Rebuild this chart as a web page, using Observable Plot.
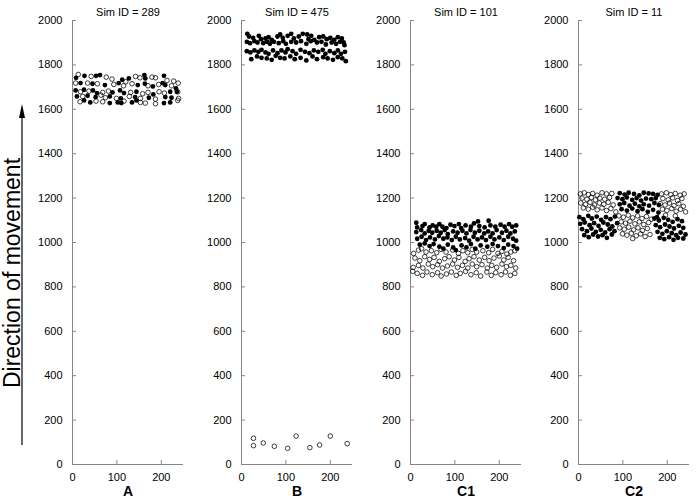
<!DOCTYPE html>
<html><head><meta charset="utf-8">
<script src="https://cdn.jsdelivr.net/npm/d3@7"></script>
<script src="https://cdn.jsdelivr.net/npm/@observablehq/plot@0.6"></script>
<style>
html,body{margin:0;padding:0;background:#fff;}
#chart{position:relative;width:697px;height:500px;overflow:hidden;font-family:"Liberation Sans",Arial,sans-serif;background:#fff;}
#chart svg{position:absolute;top:0;}
</style></head><body><div id="chart"></div>
<script>
const yTicks = [0,200,400,600,800,1000,1200,1400,1600,1800,2000];
const xTicks = [0,100,200];
const panelLabels = ["A","B","C1","C2"];
const simIds = [289,475,101,11];
const yTitle = "Direction of movement";

const A_filled = [[8,1742],[27,1751],[53,1751],[62,1754],[112,1733],[127,1739],[162,1754],[164,1739],[206,1751],[203,1718],[18,1718],[45,1715],[73,1709],[104,1718],[147,1709],[163,1715],[181,1703],[209,1709],[233,1694],[7,1685],[26,1688],[46,1685],[55,1673],[90,1676],[107,1685],[116,1673],[144,1679],[182,1667],[220,1679],[235,1679],[10,1658],[34,1661],[52,1655],[84,1658],[109,1649],[141,1655],[172,1652],[209,1655],[223,1652],[26,1640],[40,1631],[84,1628],[102,1631],[110,1628],[134,1631],[144,1640],[206,1628],[220,1631]];
const A_open = [[13,1757],[42,1748],[76,1745],[89,1736],[120,1724],[142,1748],[152,1742],[179,1745],[187,1742],[213,1730],[228,1727],[238,1718],[7,1718],[34,1718],[56,1715],[93,1712],[115,1706],[134,1715],[170,1706],[194,1712],[223,1706],[18,1679],[37,1682],[68,1676],[81,1682],[131,1676],[158,1670],[170,1676],[195,1679],[207,1673],[237,1679],[23,1658],[64,1664],[74,1652],[99,1649],[128,1658],[153,1649],[187,1646],[239,1649],[17,1634],[53,1637],[68,1634],[116,1637],[153,1631],[164,1628],[187,1625],[237,1640]];

const B_filled = [[13,1940],[17,1928],[26,1922],[39,1931],[44,1916],[54,1919],[61,1925],[68,1913],[81,1928],[87,1937],[93,1922],[104,1931],[112,1940],[118,1919],[129,1928],[138,1940],[148,1937],[151,1916],[157,1931],[164,1913],[175,1925],[184,1928],[192,1916],[200,1922],[209,1913],[217,1925],[226,1919],[230,1901],
[12,1904],[19,1898],[29,1907],[36,1901],[49,1898],[58,1904],[64,1895],[73,1904],[84,1898],[94,1907],[100,1895],[112,1904],[123,1901],[134,1907],[146,1895],[156,1907],[170,1901],[180,1904],[190,1892],[203,1901],[213,1895],[222,1904],[232,1889],
[12,1862],[20,1856],[29,1865],[38,1859],[45,1868],[54,1856],[61,1850],[71,1865],[81,1853],[90,1865],[99,1856],[104,1871],[115,1862],[123,1850],[133,1868],[143,1859],[153,1853],[163,1865],[173,1859],[183,1868],[189,1850],[199,1862],[209,1853],[217,1865],[224,1850],[233,1859],
[22,1826],[35,1838],[45,1832],[57,1829],[68,1823],[77,1841],[87,1832],[97,1829],[110,1838],[120,1826],[133,1832],[146,1820],[160,1838],[170,1826],[184,1835],[194,1829],[206,1823],[217,1835],[227,1829],[235,1817]];
const B_open = [[27,118],[27,85],[49,97],[74,82],[104,73],[123,128],[154,76],[176,88],[200,128],[238,94]];

const C1_filled = [[13,1089],[15,1068],[27,1074],[32,1083],[43,1068],[50,1077],[58,1071],[65,1083],[72,1071],[81,1065],[90,1080],[99,1074],[109,1083],[114,1065],[124,1077],[136,1071],[143,1086],[152,1095],[155,1074],[167,1068],[176,1098],[180,1077],[191,1071],[203,1080],[212,1071],[222,1083],[229,1071],[238,1077],
[13,1047],[24,1056],[32,1041],[41,1053],[49,1044],[59,1053],[68,1044],[77,1056],[84,1038],[96,1050],[106,1044],[117,1053],[126,1041],[135,1056],[145,1044],[155,1053],[166,1041],[175,1050],[185,1041],[194,1056],[206,1044],[216,1053],[225,1041],[235,1050],
[15,1017],[25,1026],[35,1011],[44,1023],[55,1014],[64,1029],[74,1017],[83,1023],[93,1011],[102,1026],[111,1014],[123,1020],[132,1008],[142,1026],[151,1014],[161,1023],[170,1011],[180,1026],[189,1014],[200,1023],[210,1011],[220,1026],[231,1017],[238,1008],
[21,990],[32,996],[43,984],[52,993],[65,981],[74,972],[84,990],[96,978],[102,966],[115,987],[126,978],[136,993],[146,972],[158,987],[173,981],[185,993],[197,984],[210,975],[220,990],[232,984],[240,972]];
const C1_open = [[7,951],[18,966],[25,972],[35,957],[47,963],[59,954],[69,969],[80,957],[95,966],[108,951],[118,963],[129,954],[139,969],[149,957],[163,963],[176,954],[185,969],[197,951],[206,960],[217,948],[226,957],[235,963],
[10,930],[21,918],[32,936],[43,924],[53,933],[65,915],[77,927],[87,936],[99,921],[109,933],[123,915],[132,927],[143,936],[155,921],[167,933],[177,918],[188,930],[200,939],[210,921],[220,933],[232,918],
[6,888],[18,897],[28,885],[40,903],[50,891],[61,900],[72,885],[83,894],[95,903],[106,888],[117,897],[129,885],[139,903],[149,891],[161,900],[173,885],[183,897],[194,888],[206,903],[216,891],[226,897],[237,885],
[5,870],[15,861],[27,852],[37,867],[49,855],[61,864],[69,849],[81,858],[92,867],[103,852],[112,861],[124,870],[136,855],[148,864],[158,849],[172,867],[182,852],[192,864],[204,855],[214,867],[225,852],[235,861]];

const C2_filled = [[2,1114],[11,1105],[22,1120],[30,1108],[41,1117],[51,1102],[62,1114],[72,1105],[82,1117],[4,1084],[14,1090],[25,1078],[35,1087],[45,1075],[56,1090],[66,1081],[76,1072],[87,1087],[8,1060],[19,1051],[29,1063],[39,1048],[50,1057],[60,1045],[70,1060],[81,1051],[13,1033],[23,1024],[33,1036],[44,1027],[54,1033],[64,1021],[75,1036],
[93,1222],[104,1216],[113,1224],[125,1219],[137,1212],[147,1224],[158,1221],[168,1219],[178,1214],[88,1200],[99,1195],[109,1203],[121,1192],[131,1200],[141,1189],[152,1198],[164,1195],[174,1200],[93,1172],[103,1178],[115,1166],[127,1175],[137,1163],[147,1172],[159,1166],[171,1178],[181,1169],[97,1150],[109,1144],[121,1153],[133,1141],[144,1150],[156,1138],[168,1147],[180,1135],[177,1114],
[171,1108],[181,1099],[192,1111],[202,1102],[212,1093],[223,1105],[233,1096],[174,1078],[184,1069],[195,1081],[205,1072],[215,1063],[226,1075],[236,1066],[178,1048],[189,1039],[199,1051],[210,1042],[220,1033],[230,1045],[241,1036],[183,1021],[193,1015],[204,1024],[214,1012],[224,1021],[236,1018]];
const C2_open = [[4,1219],[13,1224],[22,1216],[32,1221],[42,1213],[53,1224],[63,1219],[75,1221],[8,1200],[19,1195],[29,1203],[38,1192],[48,1200],[59,1195],[70,1203],[5,1178],[16,1172],[26,1181],[36,1169],[47,1178],[57,1172],[67,1181],[78,1169],[11,1156],[22,1150],[32,1159],[42,1147],[53,1156],[63,1144],[73,1153],[84,1138],
[187,1219],[198,1224],[208,1216],[218,1221],[229,1213],[238,1219],[190,1198],[202,1192],[212,1201],[223,1189],[233,1198],[184,1175],[195,1169],[205,1178],[215,1166],[226,1175],[236,1163],[189,1150],[199,1144],[210,1153],[220,1141],[230,1150],[241,1138],[196,1123],[218,1120],
[91,1120],[101,1114],[112,1123],[122,1111],[133,1120],[143,1108],[153,1117],[164,1105],[96,1093],[106,1087],[116,1096],[127,1084],[137,1093],[147,1081],[158,1090],[93,1066],[103,1060],[113,1069],[124,1057],[134,1066],[144,1054],[155,1063],[99,1039],[109,1033],[119,1042],[130,1030],[140,1039],[150,1027],[161,1036],[122,1018]];

const filledSets = [A_filled, B_filled, C1_filled, C2_filled];
const openSets = [A_open, B_open, C1_open, C2_open];

const axisColor = "#858585";
const plotW = 111, plotH = 444, mL = 40, mR = 8, mT = 20, mB = 36;
const axisLefts = [72, 241, 410, 578];
const chart = document.getElementById("chart");
const fmt = d => String(d);

panelLabels.forEach((lab, i) => {
  const svg = Plot.plot({
    width: mL + plotW + mR, height: mT + plotH + mB,
    marginLeft: mL, marginRight: mR, marginTop: mT, marginBottom: mB,
    x: {domain: [0, 250], axis: null},
    y: {domain: [0, 2000], axis: null},
    style: {background: "transparent", color: "black", fontFamily: "'Liberation Sans', Arial, sans-serif", fontSize: "11px", overflow: "visible"},
    marks: [
      Plot.axisY(yTicks, {anchor: "left", tickSize: 0, tickPadding: 10, tickFormat: fmt, label: null, fontSize: 11}),
      Plot.axisX(xTicks, {anchor: "bottom", tickSize: 0, tickPadding: 9, tickFormat: fmt, label: null, fontSize: 11}),
      Plot.tickY(yTicks, {y: d => d, insetRight: plotW - 4, stroke: axisColor}),
      Plot.tickX(xTicks, {x: d => d, insetTop: plotH - 4, stroke: axisColor}),
      Plot.ruleX([0], {stroke: axisColor}),
      Plot.ruleY([0], {stroke: axisColor}),
      Plot.dot(openSets[i], {x: d => d[0], y: d => d[1], r: 2.3, stroke: "black", strokeWidth: 0.75, fill: "none"}),
      Plot.dot(filledSets[i], {x: d => d[0], y: d => d[1], r: 2.4, fill: "black", stroke: "none"}),
      Plot.text([`Sim ID = ${simIds[i]}`], {text: d => d, frameAnchor: "top", dy: -12, fontSize: 11}),
      Plot.text([lab], {text: d => d, frameAnchor: "bottom", dy: 31, fontSize: 14, fontWeight: "bold"})
    ]
  });
  svg.style.left = (axisLefts[i] - mL) + "px";
  chart.appendChild(svg);
});

// y title and arrow annotation
const ns = "http://www.w3.org/2000/svg";
const ann = document.createElementNS(ns, "svg");
ann.setAttribute("width", 40); ann.setAttribute("height", 500);
ann.style.left = "0px";
ann.innerHTML = `<text transform="translate(12,273) rotate(-90)" text-anchor="middle" dominant-baseline="central" font-family="'Liberation Sans', Arial, sans-serif" font-size="23" fill="black">${yTitle}</text>
<line x1="22" y1="445" x2="22" y2="116" stroke="black" stroke-width="1.2"/>
<path d="M22,104 L19,118 L25,118 Z" fill="black"/>`;
chart.appendChild(ann);
</script></body></html>
